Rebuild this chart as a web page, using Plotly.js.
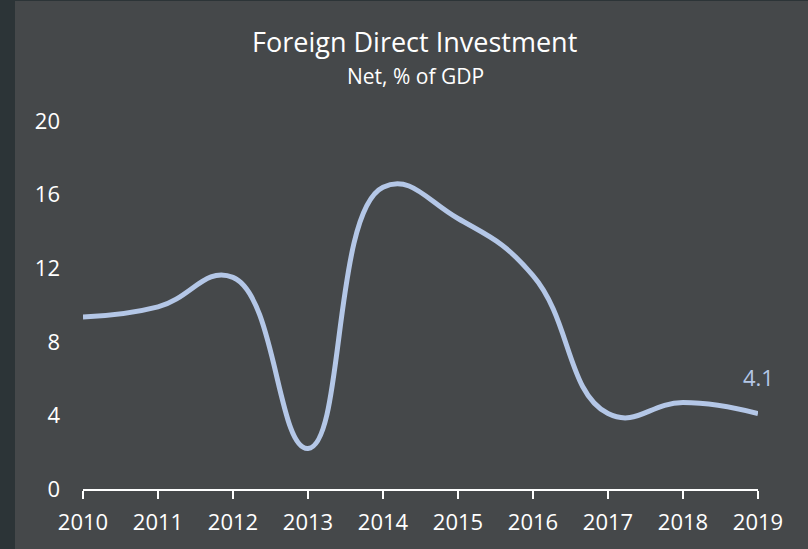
<!DOCTYPE html>
<html>
<head>
<meta charset="utf-8">
<script src="https://cdn.plot.ly/plotly-3.0.1.min.js"></script>
<style>
  html, body { margin: 0; padding: 0; background: #2c3437; width: 808px; height: 549px; overflow: hidden; }
  #chart { position: absolute; left: 15px; top: 1px; width: 793px; height: 548px; }
</style>
</head>
<body>
<div id="chart"></div>
<script>
const years = [2010, 2011, 2012, 2013, 2014, 2015, 2016, 2017, 2018, 2019];
const fdiNetPctGdp = [9.35, 9.9, 11.5, 2.2, 16.4, 14.7, 11.6, 4.1, 4.7, 4.1];
const yTicks = [0, 4, 8, 12, 16, 20];
const titleText = "Foreign Direct Investment";
const subtitleText = "Net, % of GDP";

const lineColor = "#b4c7e7";
const fontFamily = "'Open Sans', 'Noto Sans', sans-serif";

const trace = {
  x: years,
  y: fdiNetPctGdp,
  type: "scatter",
  mode: "lines",
  line: { color: lineColor, width: 5, shape: "spline", smoothing: 1.3 },
  hoverinfo: "x+y"
};

const lastIdx = years.length - 1;

const layout = {
  width: 793,
  height: 548,
  paper_bgcolor: "#45484a",
  plot_bgcolor: "rgba(0,0,0,0)",
  margin: { l: 68, r: 50, t: 120, b: 60 },
  font: { family: fontFamily, color: "#ffffff", size: 22 },
  showlegend: false,
  title: {
    text: titleText,
    font: { family: fontFamily, size: 27, color: "#ffffff" },
    x: 0.504, xanchor: "center",
    xref: "container", yref: "container",
    y: 1 - 32 / 548, yanchor: "top"
  },
  xaxis: {
    range: [2010, 2019],
    tickvals: years,
    ticktext: years.map(String),
    showgrid: false,
    zeroline: false,
    showline: true,
    linecolor: "#ffffff",
    linewidth: 2,
    ticks: "outside",
    ticklen: 8,
    tickwidth: 2,
    tickcolor: "#ffffff",
    ticklabelstandoff: 5,
    tickfont: { family: fontFamily, size: 22, color: "#ffffff" }
  },
  yaxis: {
    range: [0, 20],
    tickvals: yTicks,
    ticktext: yTicks.map(String),
    showgrid: false,
    zeroline: false,
    showline: false,
    ticks: "",
    ticklabelstandoff: 22,
    tickfont: { family: fontFamily, size: 22, color: "#ffffff" }
  },
  annotations: [{
    x: years[lastIdx],
    y: fdiNetPctGdp[lastIdx],
    xref: "x", yref: "y",
    text: String(fdiNetPctGdp[lastIdx]),
    showarrow: false,
    xanchor: "center",
    yanchor: "bottom",
    yshift: 20,
    font: { family: fontFamily, size: 22, color: lineColor }
  }, {
    x: 0.492, y: 1.1236,
    xref: "paper", yref: "paper",
    text: subtitleText,
    showarrow: false,
    xanchor: "center",
    yanchor: "middle",
    font: { family: fontFamily, size: 21, color: "#ffffff" }
  }]
};

Plotly.newPlot("chart", [trace], layout, { displayModeBar: false, staticPlot: true });
</script>
</body>
</html>
